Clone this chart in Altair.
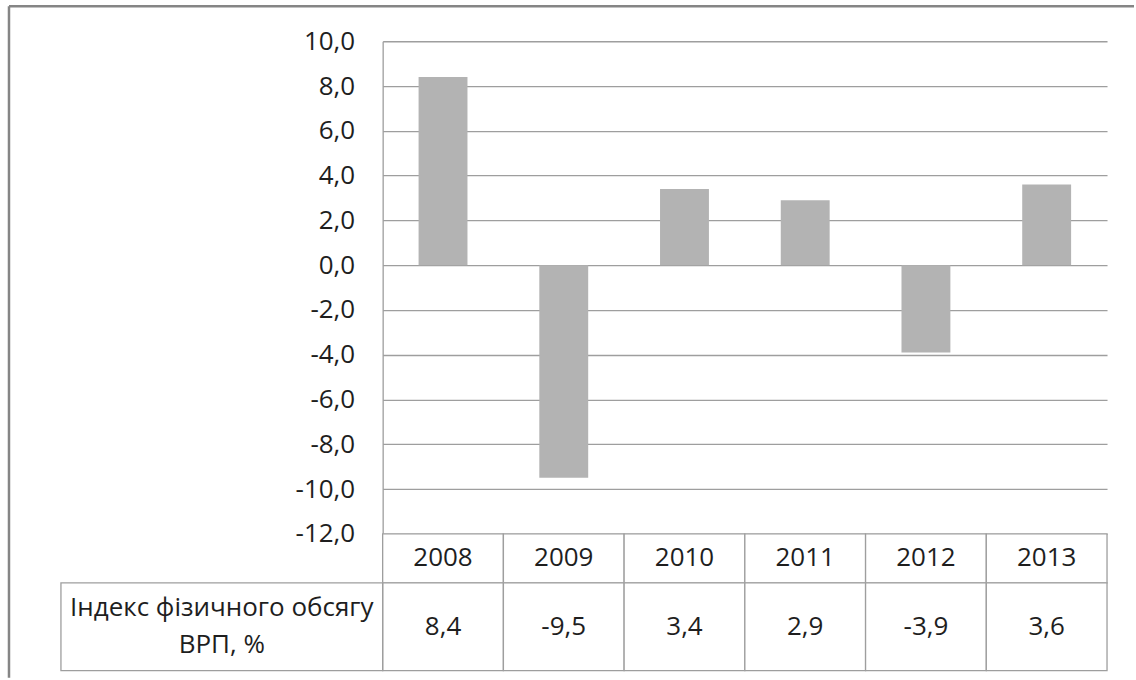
import altair as alt
import pandas as pd

# Real GDP volume index, % change per year
years = ["2008", "2009", "2010", "2011", "2012", "2013"]
gdp_index = [8.4, -9.5, 3.4, 2.9, -3.9, 3.6]
y_ticks = [-12, -10, -8, -6, -4, -2, 0, 2, 4, 6, 8, 10]
row_label = ["Індекс фізичного обсягу", "ВРП, %"]

df = pd.DataFrame({"year": years, "value": gdp_index})
df["label"] = [f"{v:.1f}".replace(".", ",") for v in gdp_index]
one = pd.DataFrame({"k": [0]})

FONT = "Open Sans"
FS = 26
TEXT = "#1E1E1E"
GRID = "#9E9E9E"
FRAME = "#858585"
BAR = "#B3B3B3"

W = 725
H_PLOT = 493
H_HEAD = 49
H_ROW = 88
LINE_H = 37

# decimal comma and a plain hyphen for negatives
comma_fmt = ("(datum.value < 0 ? '-' : '') + "
             "replace(format(abs(datum.value), '.1f'), '.', ',')")

# --- bar panel ---------------------------------------------------------
x_bar = alt.X("year:N", sort=years,
              scale=alt.Scale(paddingInner=0.595, paddingOuter=0.2975),
              axis=None)
y_bar = alt.Y("value:Q",
              scale=alt.Scale(domain=[-12, 10], nice=False),
              axis=alt.Axis(values=y_ticks, title=None, labelExpr=comma_fmt,
                            labelFont=FONT, labelFontSize=FS, labelColor=TEXT,
                            labelPadding=28, ticks=False,
                            domain=True, domainColor=GRID, domainWidth=1.3,
                            grid=True, gridColor=GRID, gridWidth=1.3))

bars = alt.Chart(df).mark_bar(color=BAR).encode(x=x_bar, y=y_bar)

frame_top = alt.Chart(one).mark_rule(color=FRAME, strokeWidth=2.5).encode(
    x=alt.value(-374), x2=alt.value(752), y=alt.value(-35))
frame_left = alt.Chart(one).mark_rule(color=FRAME, strokeWidth=2.5).encode(
    x=alt.value(-374), y=alt.value(-35), y2=alt.value(637))

top = alt.layer(bars, frame_top, frame_left).properties(width=W, height=H_PLOT)

# --- data table: header row with years ---------------------------------
x_tab = alt.X("year:N", sort=years,
              scale=alt.Scale(paddingInner=0, paddingOuter=0), axis=None)

head_cells = alt.Chart(df).mark_rect(fill="white", stroke=GRID, strokeWidth=1.3).encode(x=x_tab)
head_text = alt.Chart(df).mark_text(font=FONT, fontSize=FS, color=TEXT).encode(
    x=x_tab, text="year:N")
head = alt.layer(head_cells, head_text).properties(width=W, height=H_HEAD)

# --- data table: values row with row caption ---------------------------
val_cells = alt.Chart(df).mark_rect(fill="white", stroke=GRID, strokeWidth=1.3).encode(x=x_tab)
val_text = alt.Chart(df).mark_text(font=FONT, fontSize=FS, color=TEXT).encode(
    x=x_tab, text="label:N")
caption_box = alt.Chart(one).mark_rect(fill="white", stroke=GRID, strokeWidth=1.3).encode(
    x=alt.value(-322), x2=alt.value(0), y=alt.value(0), y2=alt.value(H_ROW))
caption = alt.Chart(one).mark_text(text=row_label, font=FONT, fontSize=FS, color=TEXT,
                                   lineHeight=LINE_H, align="center", baseline="middle").encode(
    x=alt.value(-161), y=alt.value(H_ROW / 2 - LINE_H / 2))
vals = alt.layer(val_cells, val_text, caption_box, caption).properties(width=W, height=H_ROW)

chart = (
    alt.vconcat(top, head, vals, spacing=0, bounds="flush")
    .properties(padding={"left": 7, "top": 4, "right": 0, "bottom": 0}, background="white")
    .configure_view(strokeWidth=0)
)

chart.save("out.html", embed_options={"renderer": "svg", "actions": False})
